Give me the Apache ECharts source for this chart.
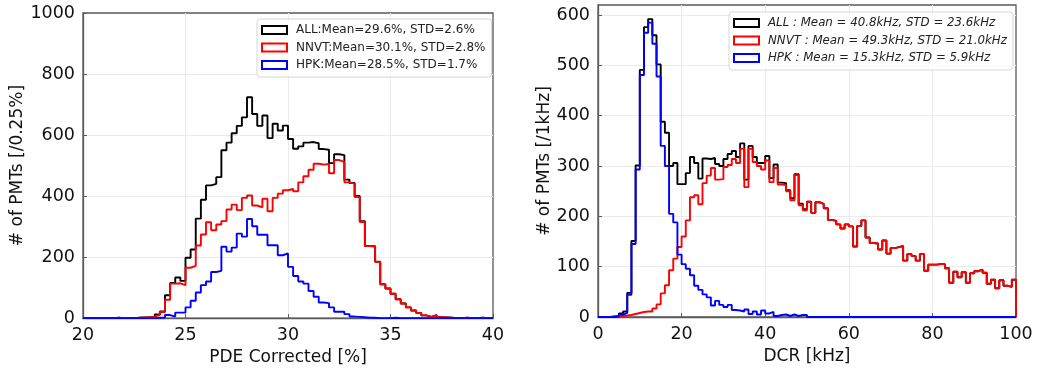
<!DOCTYPE html>
<html>
<head>
<meta charset="utf-8">
<script src="https://cdn.jsdelivr.net/npm/echarts@6/dist/echarts.min.js"></script>
<style>
  html, body { margin: 0; padding: 0; background: #fff; }
  #chart { width: 1037px; height: 371px; }
</style>
</head>
<body>
<div id="chart"></div>
<script>
// left panel: PDE, bins of 0.25% from 20 to 40
const pdeBinStart = 20;
const pdeBinWidth = 0.25;
const pdeAll = [0, 0, 0, 0, 0, 0, 1, 0, 0, 0, 1, 2, 3, 5, 12, 22, 75, 115, 133, 122,
  198, 225, 326, 388, 435, 440, 462, 550, 575, 606, 630, 658, 724, 669, 630, 664, 590, 637, 615, 631,
  587, 555, 563, 575, 577, 573, 554, 552, 508, 537, 534, 454, 443, 400, 318, 236, 236, 185, 111, 97,
  80, 62, 48, 35, 25, 17, 9, 4, 10, 3, 2, 1, 0, 0, 1, 0, 0, 1, 0, 0];
const pdeNnvt = [0, 0, 0, 0, 0, 0, 1, 0, 0, 0, 1, 2, 3, 5, 11, 20, 60, 113, 114, 108,
  165, 171, 238, 274, 314, 288, 307, 318, 356, 372, 354, 394, 402, 369, 363, 391, 350, 394, 408, 419,
  423, 416, 445, 465, 486, 506, 503, 505, 475, 518, 512, 445, 441, 397, 315, 236, 234, 184, 111, 97,
  80, 62, 48, 35, 25, 17, 9, 4, 10, 3, 2, 1, 0, 0, 1, 0, 0, 1, 0, 0];
const pdeHpk = [0, 0, 0, 0, 0, 0, 0, 0, 0, 0, 0, 0, 0, 0, 1, 2, 10, 5, 18, 18,
  35, 57, 84, 108, 120, 151, 155, 234, 218, 231, 277, 267, 325, 301, 273, 273, 239, 239, 206, 212,
  168, 138, 120, 113, 89, 70, 51, 49, 35, 21, 21, 13, 5, 4, 3, 1, 1, 0, 0, 0,
  1, 0, 0, 0, 0, 0, 0, 0, 0, 0, 0, 0, 0, 0, 0, 0, 0, 0, 0, 0];
const pdeNames = [
  "ALL:Mean=29.6%, STD=2.6%",
  "NNVT:Mean=30.1%, STD=2.8%",
  "HPK:Mean=28.5%, STD=1.7%",
];

// right panel: DCR, bins of 1 kHz from 0 to 100
const dcrBinStart = 0;
const dcrBinWidth = 1;
const dcrAll = [0, 0, 0, 1, 2, 7, 11, 48, 151, 301, 491, 576, 592, 560, 502, 388, 366, 300, 306, 264,
  264, 286, 318, 306, 275, 315, 314, 316, 304, 300, 314, 324, 330, 318, 345, 273, 340, 318, 306, 306,
  320, 276, 303, 267, 266, 252, 236, 284, 225, 214, 229, 207, 228, 225, 216, 193, 191, 184, 176, 184,
  180, 140, 181, 192, 158, 147, 146, 134, 152, 126, 137, 139, 141, 112, 125, 121, 112, 125, 92, 104,
  104, 105, 105, 97, 68, 90, 79, 89, 68, 87, 91, 94, 88, 66, 74, 57, 73, 62, 60, 74];
const dcrNnvt = [0, 0, 0, 1, 1, 2, 3, 4, 6, 8, 10, 11, 11, 17, 25, 47, 63, 93, 116, 139,
  160, 192, 238, 242, 224, 266, 281, 296, 273, 274, 298, 302, 314, 306, 334, 258, 334, 308, 300, 293,
  311, 268, 296, 263, 262, 250, 232, 282, 222, 212, 229, 207, 228, 225, 216, 193, 191, 184, 176, 184,
  180, 140, 181, 192, 158, 147, 146, 134, 152, 126, 137, 139, 141, 112, 125, 121, 112, 125, 92, 104,
  104, 105, 105, 97, 68, 90, 79, 89, 68, 87, 91, 94, 88, 66, 74, 57, 73, 62, 60, 74];
const dcrHpk = [0, 0, 0, 0, 1, 5, 8, 44, 145, 293, 481, 565, 585, 543, 478, 340, 300, 205, 188, 124,
  105, 96, 83, 62, 54, 45, 39, 23, 32, 24, 20, 24, 14, 13, 11, 15, 6, 11, 5, 13,
  7, 10, 2, 4, 5, 2, 5, 2, 4, 4, 0, 0, 0, 0, 0, 0, 0, 0, 0, 0,
  0, 0, 0, 0, 0, 0, 0, 0, 0, 0, 0, 0, 0, 0, 0, 0, 0, 0, 0, 0,
  0, 0, 0, 0, 0, 0, 0, 0, 0, 0, 0, 0, 0, 0, 0, 0, 0, 0, 0, 0];
const dcrNames = [
  "ALL : Mean = 40.8kHz, STD = 23.6kHz",
  "NNVT : Mean = 49.3kHz, STD = 21.0kHz",
  "HPK : Mean = 15.3kHz, STD = 5.9kHz",
];

const colors = ["#000000", "#ff0000", "#0000ff"];
const font = "DejaVu Sans";
const frame = "#5a5a5a";

// bin edges -> step points, closed at the last edge
function histPoints(start, width, counts) {
  const pts = counts.map((c, i) => [start + i * width, c]);
  pts.push([start + counts.length * width, 0]);
  return pts;
}

function histSeries(name, idx, gridIdx, start, width, counts) {
  return {
    name: name,
    type: "line",
    step: "end",
    xAxisIndex: gridIdx,
    yAxisIndex: gridIdx,
    symbol: "none",
    animation: false,
    color: colors[idx],
    lineStyle: { color: colors[idx], width: 1.9 },
    data: histPoints(start, width, counts),
  };
}

function valueAxis(opts) {
  return Object.assign({
    type: "value",
    nameLocation: "middle",
    nameTextStyle: { fontFamily: font, fontSize: 17, color: "#111" },
    axisLine: { show: true, lineStyle: { color: frame, width: 1.3 } },
    axisTick: { show: true, inside: true, length: 4, lineStyle: { color: frame } },
    axisLabel: { fontFamily: font, fontSize: 17.5, color: "#111", margin: 8, formatter: (v) => String(v) },
    splitLine: { show: true, showMinLine: false, showMaxLine: false, lineStyle: { color: "#ebebeb", width: 1 } },
  }, opts);
}

function legend(left, top, names, italic) {
  return {
    left: left,
    top: top,
    orient: "vertical",
    icon: "rect",
    itemWidth: 25,
    itemHeight: 8,
    itemGap: 3.5,
    padding: [4, 6, 5, 4],
    backgroundColor: "rgba(255,255,255,0.85)",
    borderColor: "#d6d6d6",
    borderWidth: 1,
    borderRadius: 3,
    textStyle: {
      fontFamily: font,
      fontSize: italic ? 11.8 : 12,
      fontStyle: italic ? "italic" : "normal",
      color: "#222",
      lineHeight: 14,
      padding: [0, 0, 0, 4],
    },
    data: names.map((n, i) => ({
      name: n,
      itemStyle: { color: "#ffffff", borderColor: colors[i], borderWidth: 2 },
    })),
  };
}

const chart = echarts.init(document.getElementById("chart"), null, { renderer: "canvas" });
chart.setOption({
  animation: false,
  backgroundColor: "#ffffff",
  grid: [
    { left: 83, right: 544, top: 13, bottom: 52, show: true, borderColor: frame, borderWidth: 1.3, backgroundColor: "transparent" },
    { left: 598, right: 21, top: 5, bottom: 54, show: true, borderColor: frame, borderWidth: 1.3, backgroundColor: "transparent" },
  ],
  xAxis: [
    valueAxis({ gridIndex: 0, min: 20, max: 40, interval: 5, name: "PDE Corrected [%]", nameGap: 29 }),
    valueAxis({ gridIndex: 1, min: 0, max: 100, interval: 20, name: "DCR [kHz]", nameGap: 30 }),
  ],
  yAxis: [
    valueAxis({ gridIndex: 0, min: 0, max: 1000, interval: 200, name: "# of PMTs [/0.25%]", nameGap: 51 }),
    valueAxis({
      gridIndex: 1, min: 0, max: 620, interval: 100, name: "# of PMTs [/1kHz]", nameGap: 45,
      axisLabel: {
        fontFamily: font, fontSize: 17.5, color: "#111", margin: 8, showMaxLabel: false,
        formatter: (v) => (v % 100 === 0 ? String(v) : ""),
      },
    }),
  ],
  legend: [legend(257, 19, pdeNames, false), legend(729, 12, dcrNames, true)],
  series: [
    histSeries(pdeNames[0], 0, 0, pdeBinStart, pdeBinWidth, pdeAll),
    histSeries(pdeNames[1], 1, 0, pdeBinStart, pdeBinWidth, pdeNnvt),
    histSeries(pdeNames[2], 2, 0, pdeBinStart, pdeBinWidth, pdeHpk),
    histSeries(dcrNames[0], 0, 1, dcrBinStart, dcrBinWidth, dcrAll),
    histSeries(dcrNames[1], 1, 1, dcrBinStart, dcrBinWidth, dcrNnvt),
    histSeries(dcrNames[2], 2, 1, dcrBinStart, dcrBinWidth, dcrHpk),
  ],
});
</script>
</body>
</html>
